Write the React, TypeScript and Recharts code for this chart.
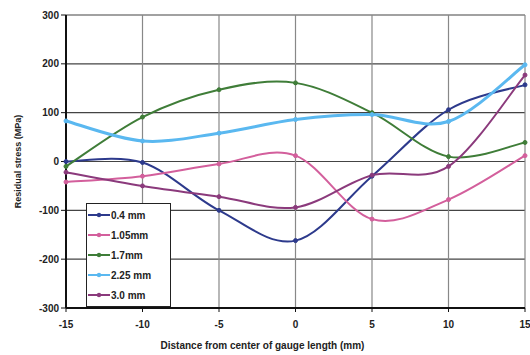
import React from 'react';
import { LineChart, Line, XAxis, YAxis, CartesianGrid } from 'recharts';

const positions = [-15, -10, -5, 0, 5, 10, 15];
const xTicks = [-15, -10, -5, 0, 5, 10, 15];
const yTicks = [-300, -200, -100, 0, 100, 200, 300];

const stress04 = [0, -2, -100, -162, -30, 106, 157];
const stress105 = [-42, -30, -5, 12, -118, -78, 12];
const stress17 = [-10, 91, 147, 161, 100, 10, 39];
const stress225 = [83, 42, 58, 86, 96, 82, 198];
const stress30 = [-22, -50, -72, -94, -28, -10, 177];

const SERIES = [
  { key: 's04', name: '0.4 mm', color: '#2d3a8c', width: 2, values: stress04 },
  { key: 's105', name: '1.05mm', color: '#d35f9c', width: 2, values: stress105 },
  { key: 's17', name: '1.7mm', color: '#3f7d38', width: 2, values: stress17 },
  { key: 's225', name: '2.25 mm', color: '#5ab8f0', width: 3, values: stress225 },
  { key: 's30', name: '3.0 mm', color: '#8b3a7c', width: 2, values: stress30 },
];

const data = positions.map((x, i) => {
  const row: Record<string, number> = { x };
  SERIES.forEach((s) => {
    row[s.key] = s.values[i];
  });
  return row;
});

// spreadsheet-style smoothed line (Catmull-Rom through every point)
function smoothCurve(context: any) {
  let pts: number[][] = [];
  return {
    areaStart() {},
    areaEnd() {},
    lineStart() {
      pts = [];
    },
    point(x: number, y: number) {
      pts.push([+x, +y]);
    },
    lineEnd() {
      if (!pts.length) return;
      context.moveTo(pts[0][0], pts[0][1]);
      for (let i = 0; i < pts.length - 1; i++) {
        const p0 = pts[i - 1] || pts[i];
        const p1 = pts[i];
        const p2 = pts[i + 1];
        const p3 = pts[i + 2] || pts[i + 1];
        context.bezierCurveTo(
          p1[0] + (p2[0] - p0[0]) / 6,
          p1[1] + (p2[1] - p0[1]) / 6,
          p2[0] - (p3[0] - p1[0]) / 6,
          p2[1] - (p3[1] - p1[1]) / 6,
          p2[0],
          p2[1],
        );
      }
    },
  };
}

const FONT = '"Liberation Sans", Arial, sans-serif';
const tickStyle = { fill: '#222', fontSize: 10, fontWeight: 700, fontFamily: FONT };

function LegendBox() {
  return (
    <div
      style={{
        position: 'absolute',
        left: 86,
        top: 203,
        width: 80,
        border: '1.5px solid #222',
        background: '#fff',
        padding: '1px 2px 1px 1px',
        fontFamily: FONT,
        fontSize: 10,
        fontWeight: 700,
        color: '#222',
      }}
    >
      {SERIES.map((s) => (
        <div key={s.key} style={{ display: 'flex', alignItems: 'center', height: 20 }}>
          <svg width={22} height={8} style={{ marginRight: 1 }}>
            <line x1={0} y1={4} x2={22} y2={4} stroke={s.color} strokeWidth={2} />
            <circle cx={11} cy={4} r={2.2} fill={s.color} />
          </svg>
          <span>{s.name}</span>
        </div>
      ))}
    </div>
  );
}

export default function App() {
  return (
    <div style={{ position: 'fixed', left: 0, top: 0, width: 530, height: 355, background: '#fff' }}>
      <LineChart width={530} height={355} data={data} margin={{ top: 15, right: 5, bottom: 2, left: 10 }}>
        <CartesianGrid horizontal={true} vertical={false} stroke="#444" strokeWidth={1.2} />
        <CartesianGrid horizontal={false} vertical={true} stroke="#888" strokeWidth={1.2} />
        <XAxis
          dataKey="x"
          type="number"
          domain={[-15, 15]}
          ticks={xTicks}
          height={45}
          tick={{ ...tickStyle, dy: 7 }}
          tickSize={4}
          axisLine={{ stroke: '#111', strokeWidth: 2 }}
          tickLine={{ stroke: '#111' }}
          label={{
            value: 'Distance from center of gauge length (mm)',
            position: 'insideBottom',
            offset: 4,
            dx: -33,
            style: { fontSize: 10, fontWeight: 700, fill: '#222', fontFamily: FONT },
          }}
        />
        <YAxis
          type="number"
          domain={[-300, 300]}
          ticks={yTicks}
          width={56}
          tick={tickStyle}
          tickSize={5}
          axisLine={{ stroke: '#111', strokeWidth: 2 }}
          tickLine={{ stroke: '#111' }}
          label={{
            value: 'Residual stress (MPa)',
            angle: -90,
            position: 'insideLeft',
            offset: 8,
            style: { fontSize: 9, fontWeight: 700, fill: '#222', fontFamily: FONT, textAnchor: 'middle' },
          }}
        />
        {SERIES.map((s) => (
          <Line
            key={s.key}
            dataKey={s.key}
            name={s.name}
            type={smoothCurve as any}
            stroke={s.color}
            strokeWidth={s.width}
            dot={{ r: 2, fill: s.color, stroke: s.color, strokeWidth: 1 }}
            isAnimationActive={false}
          />
        ))}
      </LineChart>
      <LegendBox />
    </div>
  );
}
